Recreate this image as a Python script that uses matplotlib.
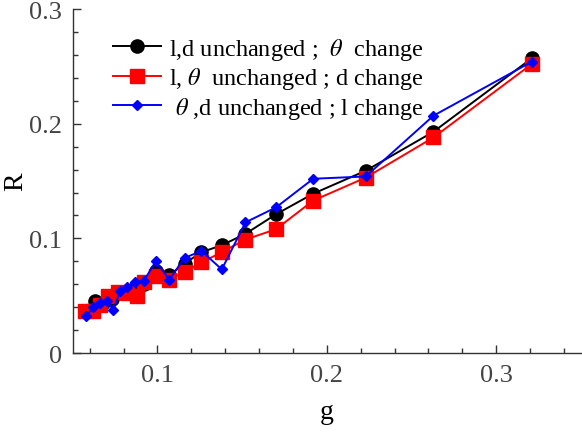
import matplotlib
matplotlib.use("Agg")
import matplotlib.pyplot as plt
from matplotlib.ticker import MultipleLocator

plt.rcParams['font.family'] = ['Liberation Serif', 'DejaVu Serif']
plt.rcParams['mathtext.fontset'] = 'stix'

# theta changes (black)
g_theta = [0.058, 0.063, 0.068, 0.073, 0.080, 0.087, 0.092, 0.099, 0.107,
           0.116, 0.126, 0.138, 0.152, 0.170, 0.192, 0.223, 0.263, 0.321]
R_theta = [0.036, 0.045, 0.044, 0.047, 0.052, 0.057, 0.060, 0.072, 0.068,
           0.078, 0.088, 0.094, 0.104, 0.121, 0.139, 0.159, 0.193, 0.257]

# d changes (red)
g_d = [0.057, 0.062, 0.066, 0.071, 0.077, 0.082, 0.088, 0.092, 0.099, 0.107,
       0.116, 0.126, 0.138, 0.152, 0.170, 0.192, 0.223, 0.263, 0.321]
R_d = [0.037, 0.037, 0.042, 0.050, 0.053, 0.052, 0.050, 0.062, 0.067, 0.064,
       0.071, 0.079, 0.088, 0.099, 0.108, 0.133, 0.153, 0.188, 0.252]

# l changes (blue)
g_l = [0.058, 0.062, 0.066, 0.070, 0.074, 0.078, 0.082, 0.087, 0.092, 0.099,
       0.107, 0.116, 0.126, 0.138, 0.152, 0.170, 0.192, 0.223, 0.263, 0.321]
R_l = [0.032, 0.040, 0.044, 0.045, 0.038, 0.054, 0.058, 0.062, 0.063, 0.080,
       0.064, 0.083, 0.089, 0.073, 0.114, 0.127, 0.152, 0.154, 0.207, 0.254]

labels = ["l,d unchanged ;  $\\theta$  change",
          "l, $\\theta$  unchanged ; d change",
          " $\\theta$ ,d unchanged ; l change"]

fig = plt.figure(figsize=(5.82, 4.35), dpi=100)
ax = fig.add_axes([0.125, 0.186, 0.873, 0.791])

ax.plot(g_theta, R_theta, color='black', marker='o', ms=9.5, lw=1.4, label=labels[0])
ax.plot(g_d, R_d, color='red', marker='s', ms=9.5, lw=1.4, label=labels[1])
ax.plot(g_l, R_l, color='blue', marker='D', ms=5.5, lw=1.4, label=labels[2])

ax.set_xlim(0.05, 0.35)
ax.set_ylim(0, 0.3)
ax.xaxis.set_minor_locator(MultipleLocator(0.02))
ax.yaxis.set_minor_locator(MultipleLocator(0.02))
ax.set_xticks([0.1, 0.2, 0.3])
ax.set_xticklabels(['0.1', '0.2', '0.3'])
ax.set_yticks([0, 0.1, 0.2, 0.3])
ax.set_yticklabels(['0', '0.1', '0.2', '0.3'])

for s in ['top', 'right']:
    ax.spines[s].set_visible(False)
for s in ['left', 'bottom']:
    ax.spines[s].set_color('#333333')
    ax.spines[s].set_linewidth(1.0)

ax.tick_params(which='major', direction='in', length=6, width=1, color='#333333',
               labelsize=19, labelcolor='#444444', pad=8)
ax.tick_params(which='minor', direction='in', length=3.5, width=1, color='#333333')

ax.set_xlabel('g', fontsize=20, labelpad=9)
ax.set_ylabel('R', fontsize=20)
ax.yaxis.set_label_coords(-0.088, 0.5)

ax.legend(loc='upper left', bbox_to_anchor=(0.05, 0.965), frameon=False,
          fontsize=17.5, handlelength=2.0, handletextpad=0.3, labelspacing=0.15,
          borderaxespad=0.2)

fig.savefig('out.png', dpi=100)
